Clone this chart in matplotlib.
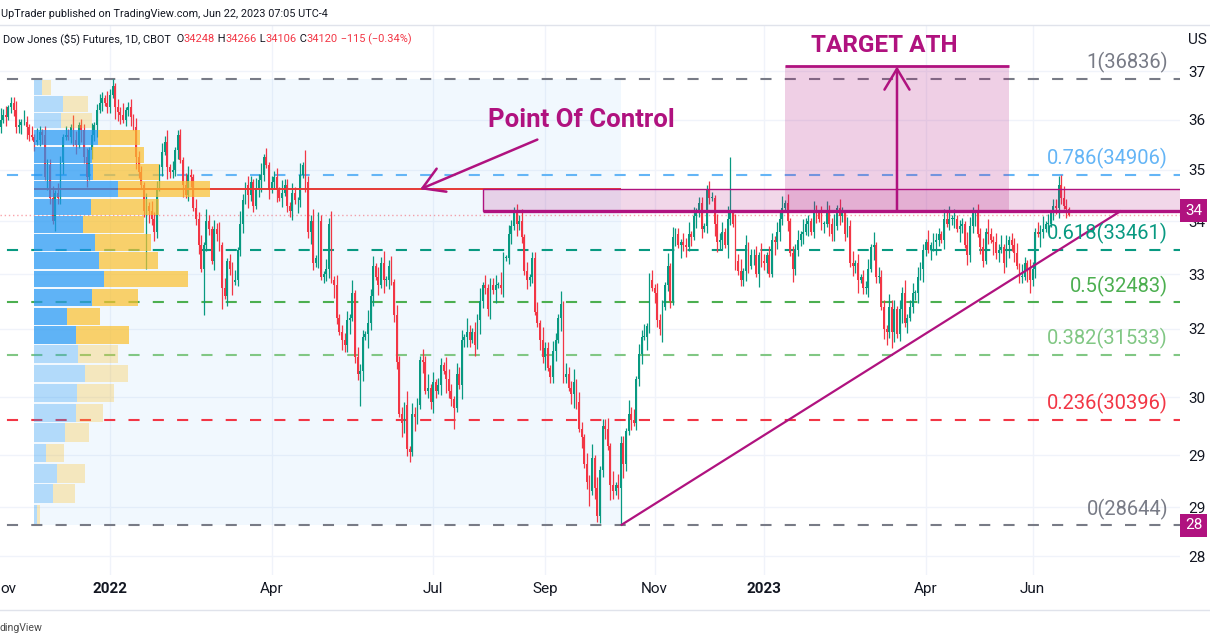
import numpy as np
import pandas as pd
import matplotlib
matplotlib.use("Agg")
import matplotlib.pyplot as plt
from matplotlib.patches import Rectangle
from matplotlib.lines import Line2D
from matplotlib.ticker import NullLocator
from matplotlib.colors import to_rgba

plt.rcParams["font.family"] = ["Roboto", "DejaVu Sans"]
plt.rcParams["lines.scale_dashes"] = False

UP = "#089981"
DOWN = "#f23645"
MAG = "#b0127f"
TEXT = "#131722"
GRID = "#f0f3fa"

# CME holidays (no daily bar on the chart)
holidays = ["2021-11-25", "2021-12-24", "2022-01-17", "2022-02-21", "2022-04-15",
            "2022-05-30", "2022-06-20", "2022-07-04", "2022-09-05", "2022-11-24",
            "2022-12-26", "2023-01-02", "2023-01-16", "2023-02-20", "2023-04-07",
            "2023-05-29", "2023-06-19"]

# daily closes, one list per month
c_2021_10 = [35450, 35680, 35760]
c_2021_11 = [35850, 36000, 36100, 36050, 36250, 36350, 36200, 35850, 35900, 35950, 35950,
             35850, 35700, 35650, 35550, 35600, 35750, 35700, 34850, 35100, 34450]
c_2021_12 = [34000, 34550, 34450, 35150, 35650, 35700, 35650, 35850, 35600, 35500, 35900,
             35800, 35250, 34850, 35400, 35700, 35900, 36200, 36350, 36450, 36350, 36250]
c_2022_01 = [36500, 36700, 36250, 36150, 36100, 36000, 36200, 36250, 36050, 35850, 35250,
             34950, 34700, 34200, 34300, 34200, 34050, 33800, 34650, 35050]
c_2022_02 = [35350, 35550, 35050, 34950, 35000, 35400, 35700, 35200, 34700, 34500, 34900,
             34850, 34250, 34050, 33550, 33100, 33550, 34000, 33850]
c_2022_03 = [33250, 33850, 33750, 33550, 32750, 32600, 33250, 33100, 32850, 32900, 33450,
             33950, 34400, 34700, 34500, 34750, 34300, 34650, 34800, 34900, 35250, 35100, 34600]
c_2022_04 = [34750, 34850, 34600, 34450, 34550, 34700, 34300, 34200, 34550, 34400, 34400,
             34900, 35100, 34750, 33800, 34000, 33200, 33300, 34000, 32950]
c_2022_05 = [33000, 33100, 33950, 32900, 32800, 32200, 31950, 31800, 31700, 32150, 32200,
             32650, 31500, 31200, 31250, 31850, 31900, 32100, 32600, 33150, 32950]
c_2022_06 = [32800, 33200, 32900, 32900, 33150, 32850, 32250, 31400, 30500, 30350, 30650,
             29900, 29850, 30500, 30450, 30650, 31450, 31400, 30900, 30950, 30700]
c_2022_07 = [31050, 30900, 31000, 31350, 31250, 31100, 30900, 30750, 30600, 31200, 31000,
             31800, 31850, 31950, 31800, 31950, 31700, 32150, 32500, 32800]
c_2022_08 = [32750, 32350, 32800, 32700, 32800, 32800, 32750, 33300, 33300, 33750, 33900,
             34150, 33950, 34000, 33700, 33050, 32900, 32950, 33300, 32300, 32100, 31800, 31500]
c_2022_09 = [31650, 31300, 31150, 31600, 31800, 32200, 32450, 31150, 31200, 30950, 30850,
             31050, 30700, 30250, 30100, 29650, 29350, 29200, 29750, 29250, 28800]
c_2022_10 = [29550, 30300, 30250, 29950, 29300, 29200, 29300, 29250, 30000, 29650, 30200,
             30500, 30400, 30350, 31100, 31550, 31850, 31850, 32050, 32900, 32750]
c_2022_11 = [32650, 32150, 32000, 32400, 32800, 33150, 32500, 33700, 33750, 33550, 33600,
             33550, 33500, 33750, 33700, 34100, 34200, 34350, 33850, 33900, 34600]
c_2022_12 = [34450, 34450, 33950, 33600, 33650, 33800, 33550, 34050, 34150, 33950, 33250,
             33050, 32900, 33050, 33550, 33150, 33350, 33350, 33000, 33350, 33250]
c_2023_01 = [33200, 33350, 33000, 33650, 33600, 33800, 34050, 34250, 34350, 34000, 33400,
             33100, 33450, 33650, 33750, 33800, 33950, 34000, 33800, 34200]
c_2023_02 = [34150, 34050, 33950, 33950, 34200, 33950, 33750, 33900, 34250, 34100, 34150,
             33750, 33900, 33200, 33150, 33200, 32900, 32950, 32750]
c_2023_03 = [32750, 33100, 33500, 33550, 32950, 32950, 32400, 32000, 31950, 32400, 31950,
             32350, 31900, 32350, 32650, 32100, 32200, 32400, 32650, 32650, 32950, 33100, 33450]
c_2023_04 = [33600, 33450, 33550, 33600, 33650, 33750, 33650, 34050, 33950, 34050, 34050,
             34050, 33850, 33900, 33950, 33550, 33350, 33900, 34150]
c_2023_05 = [34150, 33750, 33500, 33250, 33800, 33750, 33650, 33600, 33400, 33450, 33500,
             33200, 33550, 33650, 33550, 33400, 33150, 32950, 32950, 33200, 33100, 32900]
c_2023_06 = [33100, 33800, 33750, 33800, 33850, 33950, 33950, 34150, 34300, 34250, 34700,
             34450, 34300, 34235, 34120]

month_keys = ["2021-10", "2021-11", "2021-12", "2022-01", "2022-02", "2022-03", "2022-04",
              "2022-05", "2022-06", "2022-07", "2022-08", "2022-09", "2022-10", "2022-11",
              "2022-12", "2023-01", "2023-02", "2023-03", "2023-04", "2023-05", "2023-06"]
month_closes = [c_2021_10, c_2021_11, c_2021_12, c_2022_01, c_2022_02, c_2022_03, c_2022_04,
                c_2022_05, c_2022_06, c_2022_07, c_2022_08, c_2022_09, c_2022_10, c_2022_11,
                c_2022_12, c_2023_01, c_2023_02, c_2023_03, c_2023_04, c_2023_05, c_2023_06]

# wick lengths, one digit per bar, in units of 60 points
wick_up = ("2131423122" "3214213142" "1322413213" "2143122314" "1232142313"
           "2412313221" "4132213241" "3122143213" "2314213241" "3122314213"
           "2132413122" "3142213214" "1322413213" "2413122314" "1322142313"
           "2412313221" "4132213241" "3122143213" "2314213241" "3122314213"
           "2132413122" "3142213214" "1322413213" "2413122314" "1322142313"
           "2412313221" "4132213241" "3122143213" "2314213241" "3122314213"
           "2132413122" "3142213214" "1322413213" "2413122314" "1322142313"
           "2412313221" "4132213241" "3122143213" "2314213241" "3122314213"
           "2132413122" "3142213214")
wick_dn = ("1324213122" "2231421312" "3142132241" "1223142313" "2413122143"
           "3122314212" "1423213142" "2231412312" "3142213221" "1324122314"
           "2213421312" "4131223142" "1324213122" "3142132241" "2213142313"
           "1423122143" "2314213122" "3213142231" "1423213142" "2231412312"
           "3142213221" "1324122314" "2213421312" "4131223142" "1324213122"
           "3142132241" "2213142313" "1423122143" "2314213122" "3213142231"
           "1423213142" "2231412312" "3142213221" "1324122314" "2213421312"
           "4131223142" "1324213122" "3142132241" "2213142313" "1423122143"
           "2314213122" "3213142231")

# notable extremes visible on the chart
spike_highs = {"2022-01-04": 36836, "2022-02-09": 35800, "2022-04-21": 35400,
               "2022-08-16": 34280, "2022-11-30": 34700, "2022-12-13": 35250,
               "2023-06-16": 34900, "2023-06-22": 34266}
spike_lows = {"2021-12-01": 33950, "2022-01-24": 33100, "2022-02-24": 32250,
              "2022-03-07": 32350, "2022-05-20": 30630, "2022-06-17": 29680,
              "2022-07-14": 30250, "2022-09-30": 28700, "2022-10-13": 28644,
              "2023-03-15": 31650, "2023-05-31": 32650, "2023-06-22": 34106}

# fixed range volume profile, 24 rows, top row first
vp_start, vp_end = "2021-11-19", "2022-10-13"
vp_up = [8, 28, 26, 63, 57, 58, 83, 56, 48, 60, 64, 69, 57, 32, 41, 43, 50, 42, 41, 30, 11, 22, 18, 3]
vp_down = [8, 25, 31, 41, 51, 65, 91, 67, 60, 55, 58, 83, 45, 33, 53, 40, 43, 37, 27, 24, 18, 28, 22, 3]
vp_value_area = (3, 14)

# fibonacci retracement
fib_high, fib_low = 36836, 28644
fib_levels = [1, 0.786, 0.618, 0.5, 0.382, 0.236, 0]
fib_colors = ["#787b86", "#64b5f6", "#089981", "#4caf50", "#81c784", "#f23645", "#787b86"]

# drawings
key_level = 34200
zone_start = "2022-07-29"
target_price = 37100
target_start, target_end, target_arrow = "2023-01-13", "2023-05-18", "2023-03-17"
poc_arrow_tip, poc_arrow_tail, poc_tail_price = "2022-06-24", "2022-08-29", 35600
trend_start = "2022-10-13"

price_ticks = [37000, 36000, 35000, 34000, 33000, 32000, 30790, 29800, 28940, 28150]
price_tick_labels = ["37", "36", "35", "34", "33", "32", "30", "29", "29", "28"]
time_tick_months = ["2021-11", "2022-01", "2022-04", "2022-07", "2022-09", "2022-11",
                    "2023-01", "2023-04", "2023-06"]
# first label is cut by the left edge of the snapshot
time_tick_labels = ["ov", "2022", "Apr", "Jul", "Sep", "Nov", "2023", "Apr", "Jun"]

ohlc_names = ["O", "H", "L", "C"]
ohlc_values = [34248, 34266, 34106, 34120]
change, change_pct = -115, -0.34

# ---- build the series ----
cal = pd.offsets.CustomBusinessDay(holidays=holidays)
all_days = pd.date_range("2021-10-27", "2023-06-22", freq=cal)
dates, closes = [], []
for key, vals in zip(month_keys, month_closes):
    days = all_days[all_days.strftime("%Y-%m") == key]
    k = min(len(days), len(vals))
    dates.extend(days[:k])
    closes.extend(vals[:k])
dates = pd.DatetimeIndex(dates)
closes = np.array(closes, dtype=float)
n = len(closes)
x = np.arange(n)
pos = {d.strftime("%Y-%m-%d"): i for i, d in enumerate(dates)}

opens = np.r_[closes[0], closes[:-1]]
body_lo = np.minimum(opens, closes)
body_hi = np.maximum(opens, closes)
highs = body_hi + np.array([int(ch) for ch in wick_up[:n]]) * 60
lows = body_lo - np.array([int(ch) for ch in wick_dn[:n]]) * 60
for d, v in spike_highs.items():
    highs[pos[d]] = max(v, body_hi[pos[d]])
for d, v in spike_lows.items():
    lows[pos[d]] = min(v, body_lo[pos[d]])
highs = np.minimum(highs, fib_high)
lows = np.maximum(lows, fib_low)
colors = np.where(closes >= opens, UP, DOWN)

# ---- figure ----
W, H = 1210, 642
fig = plt.figure(figsize=(W / 100, H / 100), dpi=100)
ax = fig.add_axes([0, (H - 575) / H, 1180 / W, 550 / H])
ax.set_yscale("log")
ax.set_ylim(27853, 37975)
ax.set_xlim(3.8, 456.6)
for s in ax.spines.values():
    s.set_visible(False)

# grid
for p in price_ticks:
    ax.axhline(p, color=GRID, lw=1, zorder=0)
tick_pos = [int(np.argmax(dates.strftime("%Y-%m") == m)) for m in time_tick_months]
for xp in tick_pos:
    ax.axvline(xp, color=GRID, lw=1, zorder=0)

# fib levels
fib_prices = [fib_low * (fib_high / fib_low) ** f for f in fib_levels]
for f, p, c in zip(fib_levels, fib_prices, fib_colors):
    ax.axhline(p, color=c, lw=1.5, ls=(12.5, (8, 9.5)), zorder=1)
    ax.annotate(f"{f:g}({p:.0f})", xy=(1, p), xycoords=ax.get_yaxis_transform(),
                xytext=(-8.6, 4), textcoords="offset points", ha="right", va="bottom",
                color=c, fontsize=14.5, zorder=6)

# last price line
ax.axhline(closes[-1], color=DOWN, lw=1, ls=(0, (1, 2)), alpha=0.45, zorder=1.5)

# candles
ax.vlines(x, lows, highs, colors=colors, lw=0.9, zorder=2)
ax.bar(x, np.maximum(body_hi - body_lo, 12), bottom=body_lo, width=0.7,
       color=colors, lw=0, zorder=2.1)

# volume profile
p0, p1 = pos[vp_start], pos[vp_end]
vp_hi, vp_lo = highs[p0:p1 + 1].max(), lows[p0:p1 + 1].min()
edges = np.linspace(vp_hi, vp_lo, len(vp_up) + 1)
total = np.array(vp_up) + np.array(vp_down)
scale = 0.30 * (p1 - p0) / total.max()
ax.add_patch(Rectangle((p0, vp_lo), p1 - p0, vp_hi - vp_lo, fc="#2196f3", alpha=0.06,
                       lw=0, zorder=0.5))
for i in range(len(vp_up)):
    top, bot = edges[i], edges[i + 1]
    gap = (top - bot) * 0.04
    a = 0.7 if vp_value_area[0] <= i <= vp_value_area[1] else 0.3
    ax.barh(bot + gap, vp_up[i] * scale, height=top - bot - 2 * gap, left=p0, align="edge",
            color="#2196f3", alpha=a, lw=0, zorder=3)
    ax.barh(bot + gap, vp_down[i] * scale, height=top - bot - 2 * gap,
            left=p0 + vp_up[i] * scale, align="edge", color="#fbc02d", alpha=a, lw=0, zorder=3)
poc_i = int(np.argmax(total))
poc = (edges[poc_i] + edges[poc_i + 1]) / 2
ax.hlines(poc, p0, p1, color="#e53935", lw=1.4, zorder=2.5)

# resistance zone + key level
xmax = ax.get_xlim()[1]
zx = pos[zone_start]
ax.add_patch(Rectangle((zx, key_level), xmax + 20 - zx, poc - key_level,
                       fc=to_rgba(MAG, 0.17), ec=MAG, lw=1, zorder=4))
ax.hlines(key_level, zx, xmax + 20, color=MAG, lw=2.4, zorder=4.2)

# target box and arrow
tx0, tx1, tax = pos[target_start], pos[target_end], pos[target_arrow]
ax.add_patch(Rectangle((tx0, key_level), tx1 - tx0, target_price - key_level,
                       fc=to_rgba(MAG, 0.2), lw=0, zorder=4))
ax.hlines(target_price, tx0, tx1, color=MAG, lw=2, zorder=4.2)
ax.annotate("", xy=(tax, target_price), xytext=(tax, key_level),
            arrowprops=dict(arrowstyle="->,head_length=0.5,head_width=0.3", color=MAG,
                            lw=1.8, mutation_scale=30, shrinkA=0, shrinkB=0), zorder=4.5)
ax.annotate("TARGET ATH", xy=(tax, target_price), xytext=(-9.4, 15),
            textcoords="offset points", ha="center", va="center", color=MAG,
            fontsize=17.5, fontweight="bold", zorder=6)

# point of control arrow
ax.annotate("", xy=(pos[poc_arrow_tip], poc), xytext=(pos[poc_arrow_tail], poc_tail_price),
            arrowprops=dict(arrowstyle="->,head_length=0.5,head_width=0.3", color=MAG,
                            lw=1.8, mutation_scale=30, shrinkA=0, shrinkB=0), zorder=4.5)
ax.annotate("Point Of Control", xy=(pos[poc_arrow_tail], poc_tail_price), xytext=(32, 14),
            textcoords="offset points", ha="center", va="center", color=MAG,
            fontsize=18.5, fontweight="bold", zorder=6)

# trend line
ax.plot([pos[trend_start], n - 1 + 20], [fib_low, key_level], color=MAG, lw=1.6,
        zorder=4.3, solid_capstyle="butt")

# price axis
ax.yaxis.tick_right()
ax.set_yticks(price_ticks)
ax.set_yticklabels(price_tick_labels)
ax.yaxis.set_minor_locator(NullLocator())
ax.tick_params(axis="y", which="both", length=0, pad=5.8, labelsize=11, labelcolor=TEXT)
ax.set_xticks([])
for lbl, yv in [("34", key_level), ("28", fib_low)]:
    ax.text(1.0042, yv, lbl, transform=ax.get_yaxis_transform(), ha="left", va="center",
            color="white", fontsize=11, clip_on=False, zorder=10,
            bbox=dict(boxstyle="square,pad=0.3", fc=MAG, ec="none"))

# time axis
for j, (xp, lbl) in enumerate(zip(tick_pos, time_tick_labels)):
    if j == 0:
        ax.text(0.0, -0.0255, lbl, transform=ax.transAxes, ha="left", va="center",
                color=TEXT, fontsize=11, clip_on=False)
        continue
    ax.text(xp, -0.0255, lbl, transform=ax.get_xaxis_transform(), ha="center", va="center",
            color=TEXT, fontsize=11, fontweight="bold" if lbl.isdigit() else "normal",
            clip_on=False)

# header / footer
fig.add_artist(Line2D([0, 1], [(H - 25) / H] * 2, color="#e0e3eb", lw=1))
fig.add_artist(Line2D([0, 1], [(H - 610) / H] * 2, color="#e0e3eb", lw=1))
fig.text(1 / W, 1 - 14 / H, "UpTrader published on TradingView.com, Jun 22, 2023 07:05 UTC-4",
         fontsize=7.8, color=TEXT, va="center")
fig.text(1188 / W, 1 - 40 / H, "US", fontsize=11, color=TEXT, va="center")
fig.text(0, 1 - 628 / H, "dingView", fontsize=7.6, color="#4a4a4a", va="center")

parts = [("Dow Jones ($5) Futures, 1D, CBOT ", TEXT)]
for nm, v in zip(ohlc_names, ohlc_values):
    parts += [(" " + nm, TEXT), (f"{v}", DOWN)]
parts.append((f" \u2212{abs(change)} (\u2212{abs(change_pct):.2f}%)", DOWN))
renderer = fig.canvas.get_renderer()
xc = 3 / W
for txt, col in parts:
    t = fig.text(xc, 1 - 39 / H, txt, fontsize=7.9, color=col, va="center")
    xc = t.get_window_extent(renderer).x1 / W

fig.savefig("out.png", dpi=100)
